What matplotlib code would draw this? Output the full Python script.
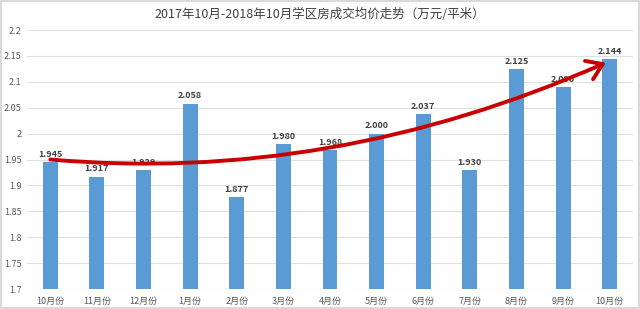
import matplotlib
matplotlib.use("Agg")
import matplotlib.pyplot as plt
from matplotlib.patches import FancyArrowPatch
from matplotlib.path import Path

plt.rcParams['font.family'] = ['Noto Sans CJK SC', 'DejaVu Sans']

months = ['10月份', '11月份', '12月份', '1月份', '2月份', '3月份', '4月份',
          '5月份', '6月份', '7月份', '8月份', '9月份', '10月份']
prices = [1.945, 1.917, 1.929, 2.058, 1.877, 1.980, 1.968,
          2.000, 2.037, 1.930, 2.125, 2.090, 2.144]
yticks = [1.7, 1.75, 1.8, 1.85, 1.9, 1.95, 2.0, 2.05, 2.1, 2.15, 2.2]
ytick_labels = ['1.7', '1.75', '1.8', '1.85', '1.9', '1.95', '2', '2.05', '2.1', '2.15', '2.2']
# trend arrow (quadratic Bezier control points: start, control, end)
trend_x = [0, 6, 11.92]
trend_y = [1.950, 1.9025, 2.137]

title = '2017年10月-2018年10月学区房成交均价走势（万元/平米）'

fig = plt.figure(figsize=(6.4, 3.09), dpi=100)
fig.patch.set_facecolor('white')
fig.patch.set_edgecolor('#d9d9d9')
fig.patch.set_linewidth(1.5)

ax = fig.add_axes([27/640, 1 - 289/309, 606/640, 259/309])

x = list(range(len(months)))
ax.bar(x, prices, width=0.32, color='#5b9bd5', zorder=2)
for xi, v in zip(x, prices):
    ax.text(xi, v + 0.006, f'{v:.3f}', ha='center', va='bottom',
            fontsize=6.5, fontweight='bold', color='#404040', zorder=3)

ax.set_ylim(1.7, 2.2)
ax.set_xlim(-0.5, len(months) - 0.5)
ax.set_yticks(yticks)
ax.set_yticklabels(ytick_labels)
ax.set_xticks(x)
ax.set_xticklabels(months)
ax.tick_params(axis='both', length=0, labelsize=6.5, colors='#595959')
ax.tick_params(axis='y', pad=4)
ax.tick_params(axis='x', pad=6)
ax.grid(axis='y', color='#e0e0e0', linewidth=0.8, zorder=0)
ax.set_axisbelow(True)
for s in ax.spines.values():
    s.set_visible(False)

verts = list(zip(trend_x, trend_y))
path = Path(verts, [Path.MOVETO, Path.CURVE3, Path.CURVE3])
arrow = FancyArrowPatch(path=path, arrowstyle='->,head_length=0.9,head_width=0.6',
                        mutation_scale=12, color='#c80000', linewidth=2.8,
                        zorder=4, transform=ax.transData)
ax.add_patch(arrow)

fig.text(0.5, 1 - 14/309, title, ha='center', va='center', fontsize=9, color='#404040')

fig.savefig('out.png', dpi=100)
